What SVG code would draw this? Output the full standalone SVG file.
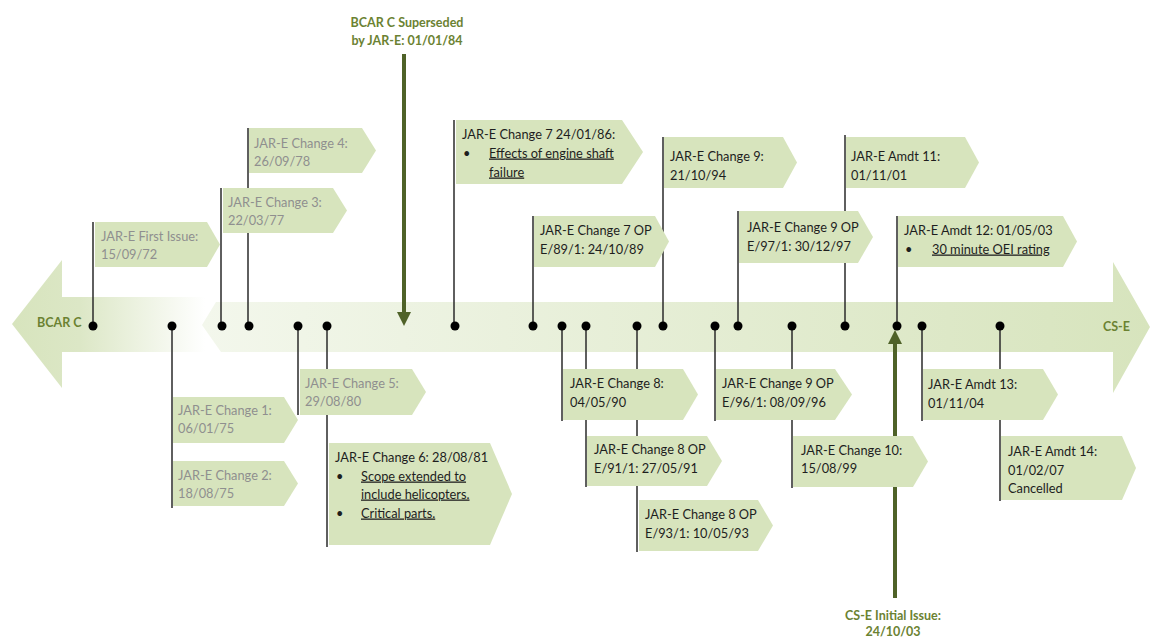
<svg xmlns="http://www.w3.org/2000/svg" width="1152" height="637" viewBox="0 0 1152 637">
<defs>
<linearGradient id="gL" gradientUnits="userSpaceOnUse" x1="12" y1="0" x2="205" y2="0">
<stop offset="0" stop-color="#d7e4bd"/><stop offset="0.35" stop-color="#dce7c6"/><stop offset="1" stop-color="#ffffff"/>
</linearGradient>
<linearGradient id="gR" gradientUnits="userSpaceOnUse" x1="202" y1="0" x2="1150" y2="0">
<stop offset="0" stop-color="#f3f7ec"/><stop offset="1" stop-color="#d7e4bd"/>
</linearGradient>
<style>
.c{fill:#d7e4bd}
.t{font-family:Lato,"Liberation Sans",sans-serif;font-size:12.8px;fill:#1e1e1e}
.g{fill:#8f8f8f}
.u{text-decoration:underline}
.lead{stroke:#2b2b2b;stroke-width:1.5;fill:none}
.dot{fill:#000}
.gl{stroke:#4f6228;stroke-width:4;fill:none}
.gh{fill:#4f6228}
.lab{font-family:Lato,"Liberation Sans",sans-serif;font-size:12.5px;fill:#6b8232}
.b{font-weight:bold}
</style>
</defs>
<rect width="1152" height="637" fill="#fff"/>
<g id="timeline">
<polygon points="12,324 62,260 62,297 222,297 222,352 62,352 62,388" fill="url(#gL)"/>
<polygon points="202,325 216,302 1113,302 1113,262 1150,327 1113,393 1113,352 221,352" fill="url(#gR)"/>
<text class="lab b" x="37" y="327">BCAR C</text>
<text class="lab b" x="1103" y="331">CS-E</text>
</g>
<g id="connectors">
<path class="lead" d="M93,222V326M221,188V326M248,128V326M454,120V326M533,216V326M663,137V326M738,211V326M845,135V326M897,216V326"/>
<path class="lead" d="M172,326V508M298,326V415M327,326V547M562,326V421M586,326V487M637,326V552M715,326V421M792,326V488M922,326V421M1000,326V501"/>
<path class="gl" d="M404,54V314"/>
<polygon class="gh" points="397,312 411,312 404,326"/>
<path class="gl" d="M895,342V598"/>
<polygon class="gh" points="888,344 902,344 895,330"/>
</g>
<g id="dots">
<circle class="dot" cx="93" cy="326" r="4.5"/><circle class="dot" cx="172" cy="326" r="4.5"/><circle class="dot" cx="222" cy="326" r="4.5"/><circle class="dot" cx="249" cy="326" r="4.5"/><circle class="dot" cx="298" cy="326" r="4.5"/><circle class="dot" cx="327" cy="326" r="4.5"/><circle class="dot" cx="455" cy="326" r="4.5"/><circle class="dot" cx="533" cy="326" r="4.5"/><circle class="dot" cx="562" cy="326" r="4.5"/><circle class="dot" cx="586" cy="326" r="4.5"/><circle class="dot" cx="637" cy="326" r="4.5"/><circle class="dot" cx="663" cy="326" r="4.5"/><circle class="dot" cx="715" cy="326" r="4.5"/><circle class="dot" cx="738" cy="326" r="4.5"/><circle class="dot" cx="792" cy="326" r="4.5"/><circle class="dot" cx="845" cy="326" r="4.5"/><circle class="dot" cx="897" cy="326" r="4.5"/><circle class="dot" cx="922" cy="326" r="4.5"/><circle class="dot" cx="1000" cy="326" r="4.5"/>
</g>
<g id="n-first"><polygon class="c" points="95,222 207,222 220,244.5 207,267 95,267"/><text class="t g" x="101" y="241">JAR-E First Issue:</text><text class="t g" x="101" y="259">15/09/72</text></g>
<g id="n-ch3"><polygon class="c" points="223,188 333,188 347,210.5 333,233 223,233"/><text class="t g" x="228" y="207">JAR-E Change 3:</text><text class="t g" x="228" y="225">22/03/77</text></g>
<g id="n-ch4"><polygon class="c" points="249,128 362,128 376,150.5 362,173 249,173"/><text class="t g" x="254" y="148">JAR-E Change 4:</text><text class="t g" x="254" y="166">26/09/78</text></g>
<g id="n-ch7"><polygon class="c" points="456,120 622,120 643,152 622,184 456,184"/><text class="t" x="462" y="138.5">JAR-E Change 7 24/01/86:</text><text class="t" x="463" y="157.5">•</text><text class="t u" x="489" y="157.5">Effects of engine shaft</text><text class="t u" x="489" y="176.5">failure</text></g>
<g id="n-ch7op"><polygon class="c" points="534,216 655,216 669,241.5 655,267 534,267"/><text class="t" x="540" y="234.5">JAR-E Change 7 OP</text><text class="t" x="540" y="253.5">E/89/1: 24/10/89</text></g>
<g id="n-ch9"><polygon class="c" points="664,137 783,137 797,162.5 783,188 664,188"/><text class="t" x="670" y="160.5">JAR-E Change 9:</text><text class="t" x="670" y="179.5">21/10/94</text></g>
<g id="n-ch9op97"><polygon class="c" points="739,211 858,211 873,237 858,263 739,263"/><text class="t" x="747" y="231.5">JAR-E Change 9 OP</text><text class="t" x="747" y="251">E/97/1: 30/12/97</text></g>
<g id="n-a11"><polygon class="c" points="846,137 965,137 979,162.5 965,188 846,188"/><text class="t" x="851" y="160.5">JAR-E Amdt 11:</text><text class="t" x="851" y="179.5">01/11/01</text></g>
<g id="n-a12"><polygon class="c" points="898,216 1063,216 1077,241.5 1063,267 898,267"/><text class="t" x="904" y="234.5">JAR-E Amdt 12: 01/05/03</text><text class="t" x="905" y="253.5">•</text><text class="t u" x="932" y="253.5">30 minute OEI rating</text></g>
<g id="n-ch1"><polygon class="c" points="173,397 284,397 298,420 284,443 173,443"/><text class="t g" x="178" y="415">JAR-E Change 1:</text><text class="t g" x="178" y="433">06/01/75</text></g>
<g id="n-ch2"><polygon class="c" points="173,461 284,461 298,483.5 284,506 173,506"/><text class="t g" x="178" y="479.5">JAR-E Change 2:</text><text class="t g" x="178" y="497.5">18/08/75</text></g>
<g id="n-ch5"><polygon class="c" points="300,369 412,369 426,392 412,415 300,415"/><text class="t g" x="305" y="387.5">JAR-E Change 5:</text><text class="t g" x="305" y="406">29/08/80</text></g>
<g id="n-ch6"><polygon class="c" points="329,443 490,443 512,494 490,545 329,545"/><text class="t" x="335" y="461.5">JAR-E Change 6: 28/08/81</text><text class="t" x="336" y="480.5">•</text><text class="t u" x="361" y="480.5">Scope extended to</text><text class="t u" x="361" y="498.5">include helicopters.</text><text class="t" x="336" y="517.5">•</text><text class="t u" x="361" y="517.5">Critical parts.</text></g>
<g id="n-ch8"><polygon class="c" points="563,369 683,369 698,394.5 683,420 563,420"/><text class="t" x="570" y="387.5">JAR-E Change 8:</text><text class="t" x="570" y="406.5">04/05/90</text></g>
<g id="n-ch8op91"><polygon class="c" points="587,436 707,436 722,461 707,486 587,486"/><text class="t" x="594" y="453.5">JAR-E Change 8 OP</text><text class="t" x="594" y="472.5">E/91/1: 27/05/91</text></g>
<g id="n-ch8op93"><polygon class="c" points="639,500 758,500 773,525.5 758,551 639,551"/><text class="t" x="645" y="518.5">JAR-E Change 8 OP</text><text class="t" x="645" y="537.5">E/93/1: 10/05/93</text></g>
<g id="n-ch9op96"><polygon class="c" points="716,369 835,369 852,394.5 835,420 716,420"/><text class="t" x="722" y="387.5">JAR-E Change 9 OP</text><text class="t" x="722" y="406.5">E/96/1: 08/09/96</text></g>
<g id="n-ch10"><polygon class="c" points="793,436 913,436 928,461.5 913,487 793,487"/><text class="t" x="801" y="454.5">JAR-E Change 10:</text><text class="t" x="801" y="472.5">15/08/99</text></g>
<g id="n-a13"><polygon class="c" points="923,369 1043,369 1058,394.5 1043,420 923,420"/><text class="t" x="928" y="388.5">JAR-E Amdt 13:</text><text class="t" x="928" y="407.5">01/11/04</text></g>
<g id="n-a14"><polygon class="c" points="1001,436 1122,436 1136,468 1122,500 1001,500"/><text class="t" x="1008" y="456">JAR-E Amdt 14:</text><text class="t" x="1008" y="475">01/02/07</text><text class="t" x="1008" y="493">Cancelled</text></g>
<g id="n-superseded"><text class="lab b" x="407" y="26.5" text-anchor="middle">BCAR C Superseded</text><text class="lab b" x="407" y="44.5" text-anchor="middle">by JAR-E: 01/01/84</text></g>
<g id="n-cse"><text class="lab b" x="893" y="619.5" text-anchor="middle">CS-E Initial Issue:</text><text class="lab b" x="893" y="636" text-anchor="middle">24/10/03</text></g>
</svg>
